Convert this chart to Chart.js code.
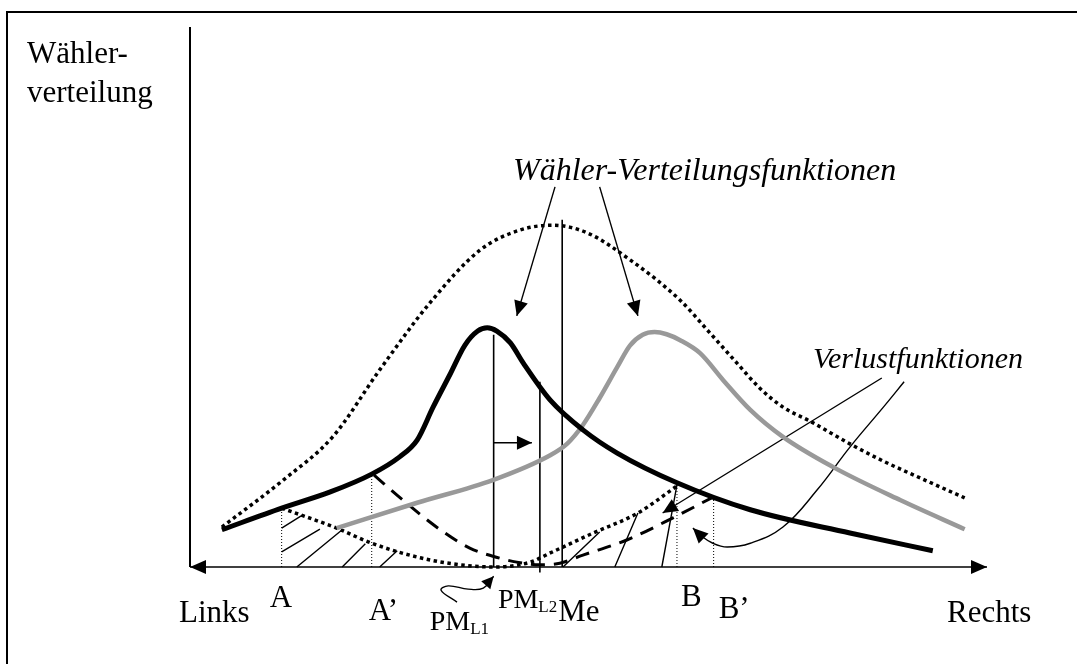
<!DOCTYPE html>
<html>
<head>
<meta charset="utf-8">
<script src="https://cdn.jsdelivr.net/npm/chart.js@4.4.0/dist/chart.umd.min.js"></script>
<style>
html,body{margin:0;padding:0;background:#fff;}
canvas{display:block;}
</style>
</head>
<body>
<canvas id="myChart" width="1077" height="664"></canvas>
<script>
// x = Position Links (0) .. Rechts (100), y = Wählerverteilung (0..100)
const voterTotal = [[4.0,7.4],[11.7,16.1],[17.9,24.1],[23.8,36.5],[30.1,48.9],[36.4,58.7],[41.4,62.4],[45.5,63.3],[49.8,61.9],[55.2,56.9],[61.5,49.4],[64.9,43.9],[68.6,37.8],[71.5,33.1],[74.4,29.6],[77.8,27.0],[82.8,22.8],[87.0,19.6],[92.2,16.1],[97.2,12.8]];
const voterL1 = [[4.0,6.9],[11.5,10.9],[17.6,13.9],[22.8,17.2],[26.3,20.4],[28.5,23.5],[30.5,29.6],[32.6,35.6],[34.5,41.1],[36.1,43.7],[37.3,44.3],[38.5,43.7],[40.2,41.5],[41.8,37.8],[45.2,30.9],[49.3,25.4],[53.6,21.1],[61.1,15.6],[70.3,10.6],[82.8,6.3],[93.2,3.0]];
const voterL2 = [[18.4,7.2],[28.5,11.9],[38.0,16.1],[45.2,20.7],[47.3,22.8],[49.3,26.3],[51.4,31.3],[53.6,37.0],[55.2,41.0],[56.8,43.0],[58.3,43.5],[59.8,43.1],[61.5,42.0],[64.0,39.6],[66.9,34.6],[70.3,29.1],[74.4,24.1],[80.7,18.5],[89.1,12.4],[97.2,7.0]];
const lossL1 = [[11.5,10.9],[18.4,7.2],[22.8,4.4],[28.9,1.7],[33.9,0.4],[38.1,0],[42.7,0.9],[45.2,2.6],[50.6,6.3],[56.2,10.0],[61.1,15.0]];
const lossL2 = [[23.1,17.0],[26.7,12.4],[31.4,6.9],[35.1,3.5],[38.0,2.0],[41.0,0.9],[43.9,0.4],[46.4,0.7],[49.3,2.2],[54.8,5.0],[60.6,9.1],[65.7,13.0]];

// Achsenpunkte
const markNames = ['A', 'A’', 'PM', 'PM', 'Me', 'B', 'B’'];
const markSubs = ['', '', 'L1', 'L2', '', '', ''];
const markX = [11.5, 22.8, 38.1, 43.9, 46.7, 61.1, 65.7];
const markTop = [10.9, 17.2, 43.0, 34.3, 64.3, 15.2, 13.0];

// Schraffur (x1,y1,x2,y2)
const hatchSegs = [[11.5,7.2,14.1,9.6],[11.5,2.8,16.3,7.0],[13.4,0,19.1,6.9],[19.1,0,22.0,4.3],[23.8,0,26.0,3.0],[46.8,0,51.4,6.5],[53.3,0,56.2,10.0],[59.2,0,61.1,15.2]];

// Hinweispfeile
const arrowVerteil1 = [[45.8,70.4],[41.0,46.5]];
const arrowVerteil2 = [[51.4,70.4],[56.2,46.5]];
const arrowVerlust1 = [[86.8,35.0],[59.3,10.0]];
const arrowVerlust2 = [[89.6,34.3],[87.0,29.6],[82.8,22.2],[78.7,14.3],[74.4,7.4],[70.3,4.4],[67.4,3.7],[65.6,4.4],[64.0,5.9],[63.1,7.2]];
const shiftArrow = [[38.1,23.0],[42.9,23.0]];
const pmArrow = [[33.5,-6.5],[31.5,-4.3],[32.4,-3.5],[34.9,-4.1],[36.8,-3.9],[38.1,-1.7]];

function pts(a){ return a.map(p => ({x:p[0], y:p[1]})); }
function segs(list){ return list.flatMap(s => [{x:s[0],y:s[1]},{x:s[2],y:s[3]},{x:s[2],y:null}]); }

const vertLines = segs(markX.slice(2,5).map((x,i) => [x, i===1 ? -1 : 0, x, markTop[i+2]]));
const dropLines = segs([0,1,5,6].map(i => [markX[i], 0, markX[i], markTop[i]]));

const SERIF = '"Liberation Serif", "Times New Roman", serif';

const decor = {
  id: 'decor',
  beforeDatasetsDraw(chart){
    const c = chart.ctx;
    c.save();
    c.strokeStyle = '#000';
    c.lineWidth = 2;
    c.beginPath();
    c.moveTo(7, 664); c.lineTo(7, 12); c.lineTo(1077, 12);
    c.stroke();
    c.restore();
  },
  afterDatasetsDraw(chart){
    const c = chart.ctx;
    const xs = chart.scales.x;
    c.save();
    c.fillStyle = '#000';
    chart.data.datasets.forEach((ds, i) => {
      const el = chart.getDatasetMeta(i).data;
      if (!ds.arrowEnd && !ds.arrowStart) return;
      const head = (tip, from) => {
        const a = Math.atan2(tip.y - from.y, tip.x - from.x);
        const L = ds.headLen || 15, W = ds.headW || 7;
        c.beginPath();
        c.moveTo(tip.x, tip.y);
        c.lineTo(tip.x - L*Math.cos(a) + W*Math.sin(a), tip.y - L*Math.sin(a) - W*Math.cos(a));
        c.lineTo(tip.x - L*Math.cos(a) - W*Math.sin(a), tip.y - L*Math.sin(a) + W*Math.cos(a));
        c.closePath();
        c.fill();
      };
      const n = el.length;
      if (ds.arrowEnd) head(el[n-1], el[n-2]);
      if (ds.arrowStart) head(el[0], el[1]);
    });

    c.textBaseline = 'alphabetic';
    c.textAlign = 'left';
    const txt = (s, x, y, size, italic) => {
      c.font = (italic ? 'italic ' : '') + size + 'px ' + SERIF;
      c.fillText(s, x, y);
      return c.measureText(s).width;
    };
    txt('Wähler-', 27, 63, 31);
    txt('verteilung', 27, 102, 31);
    txt('Links', 179, 622, 31);
    txt('Rechts', 947, 622, 31);
    txt('Wähler-Verteilungsfunktionen', 513, 180, 32, true);
    txt('Verlustfunktionen', 813, 368, 30, true);

    // Beschriftung der Achsenpunkte
    const dx = [-12, -3, -64, -42, -4, 4, 5];
    const base = [607, 620, 630, 608, 621, 606, 618];
    markNames.forEach((m, i) => {
      const px = xs.getPixelForValue(markX[i]) + dx[i];
      if (markSubs[i]) {
        const w = txt(m, px, base[i], 28);
        txt(markSubs[i], px + w, base[i] + 4, 17);
      } else {
        txt(m, px, base[i], 31);
      }
    });
    c.restore();
  }
};

const thin = {borderColor:'#000', borderWidth:1.4, pointRadius:0, tension:0, fill:false};

const ctx = document.getElementById('myChart').getContext('2d');
const myChart = new Chart(ctx, {
  type: 'line',
  data: {
    datasets: [
      {label:'Wähler L1', data: pts(voterL1), borderColor:'#000', borderWidth:5, pointRadius:0, cubicInterpolationMode:'monotone', borderCapStyle:'butt'},
      {label:'Wähler L2', data: pts(voterL2), borderColor:'#999999', borderWidth:4.5, pointRadius:0, cubicInterpolationMode:'monotone'},
      {label:'Wähler gesamt', data: pts(voterTotal), borderColor:'#000', borderWidth:3.5, borderDash:[3.5,3.5], pointRadius:0, cubicInterpolationMode:'monotone'},
      {label:'Verlust L1', data: pts(lossL1), borderColor:'#000', borderWidth:3.5, borderDash:[3.5,3.5], pointRadius:0, cubicInterpolationMode:'monotone'},
      {label:'Verlust L2', data: pts(lossL2), borderColor:'#000', borderWidth:3, borderDash:[14,9], pointRadius:0, cubicInterpolationMode:'monotone'},
      Object.assign({label:'Positionen', data: vertLines}, thin, {borderWidth:1.6}),
      Object.assign({label:'Lote', data: dropLines}, thin, {borderWidth:1, borderDash:[1,2]}),
      Object.assign({label:'Schraffur', data: segs(hatchSegs)}, thin),
      Object.assign({label:'x-Achse', data: pts([[0,0],[100,0]]), arrowStart:true, arrowEnd:true, headLen:16, headW:7}, thin, {borderWidth:1.6}),
      Object.assign({label:'y-Achse', data: pts([[0,0],[0,100]])}, thin, {borderWidth:2}),
      Object.assign({label:'p1', data: pts(arrowVerteil1), arrowEnd:true}, thin),
      Object.assign({label:'p2', data: pts(arrowVerteil2), arrowEnd:true}, thin),
      Object.assign({label:'p3', data: pts(arrowVerlust1), arrowEnd:true}, thin),
      Object.assign({label:'p4', data: pts(arrowVerlust2), arrowEnd:true}, thin, {tension:0.4}),
      Object.assign({label:'p5', data: pts(shiftArrow), arrowEnd:true}, thin),
      Object.assign({label:'p6', data: pts(pmArrow), arrowEnd:true, headLen:12, headW:6}, thin, {tension:0.4})
    ]
  },
  options: {
    responsive: false,
    animation: false,
    clip: false,
    layout: {padding: {left:190, right:90, top:27, bottom:97}},
    scales: {
      x: {type:'linear', min:0, max:100, display:false},
      y: {min:0, max:100, display:false}
    },
    plugins: {legend:{display:false}, tooltip:{enabled:false}},
    spanGaps: false
  },
  plugins: [decor]
});
</script>
</body>
</html>
